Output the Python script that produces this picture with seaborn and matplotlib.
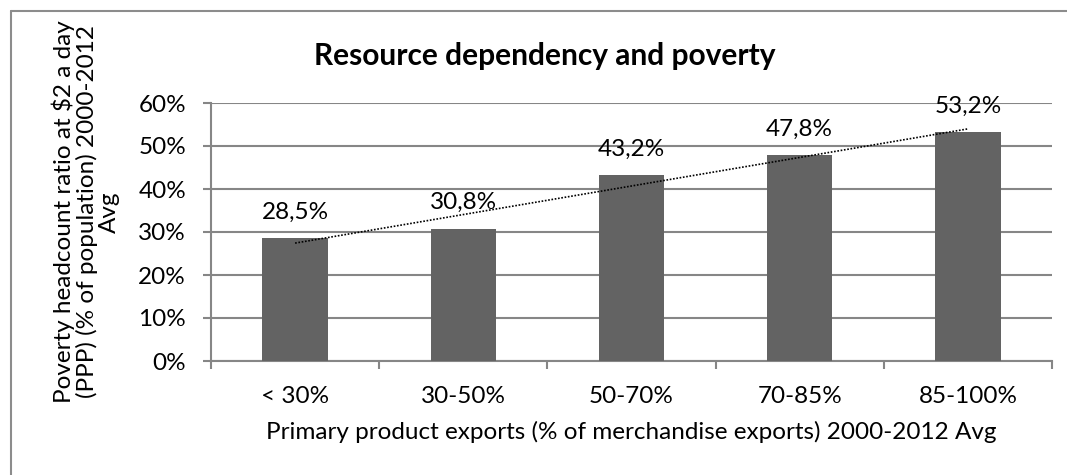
import numpy as np
import pandas as pd
import matplotlib
matplotlib.use("Agg")
import matplotlib.pyplot as plt
import seaborn as sns
from matplotlib.ticker import PercentFormatter, FixedLocator

categories = ["< 30%", "30-50%", "50-70%", "70-85%", "85-100%"]
values = [28.5, 30.8, 43.2, 47.8, 53.2]
yticks = [0, 10, 20, 30, 40, 50, 60]

title = "Resource dependency and poverty"
xlabel = "Primary product exports (% of merchandise exports) 2000-2012 Avg"
ylabel = "Poverty headcount ratio at $2 a day\n(PPP) (% of population) 2000-2012\nAvg"

sns.set_theme(style="white")
plt.rcParams['font.family'] = ['Lato', 'DejaVu Sans']

FS = 17.5

df = pd.DataFrame({"cat": categories, "val": values})

fig = plt.figure(figsize=(10.67, 4.75), dpi=100)
ax = fig.add_axes([211/1067, 1 - 361/475, (1052-211)/1067, (361-103)/475])

bar_color = "#636363"
grid_color = "#868686"

sns.barplot(data=df, x="cat", y="val", color=bar_color, width=0.39,
            saturation=1, ax=ax, zorder=3)
for p in ax.patches:
    p.set_edgecolor("none")

ax.set_ylim(0, 60)
ax.set_xlim(-0.5, len(categories) - 0.5)
ax.yaxis.set_major_locator(FixedLocator(yticks))
ax.yaxis.set_major_formatter(PercentFormatter(decimals=0))
ax.grid(axis="y", color=grid_color, linewidth=1.5, zorder=0)
ax.set_axisbelow(True)

for s in ["top", "right"]:
    ax.spines[s].set_visible(False)
for s in ["left", "bottom"]:
    ax.spines[s].set_color(grid_color)
    ax.spines[s].set_linewidth(1.5)

ax.tick_params(axis="y", which="major", direction="out", length=6, width=1.5,
               color=grid_color, left=True, labelsize=FS, pad=12, labelcolor="#000000")
ax.set_xticks(np.arange(len(categories)))
ax.set_xticklabels(categories)
ax.tick_params(axis="x", which="major", length=0, labelsize=FS, pad=18, labelcolor="#000000")
ax.set_xticks(np.arange(len(categories) + 1) - 0.5, minor=True)
ax.tick_params(axis="x", which="minor", direction="out", length=6, width=1.5,
               color=grid_color, bottom=True)

# data labels
for i, v in enumerate(values):
    ax.annotate(f"{v:.1f}%".replace(".", ","), (i, v), xytext=(0, 19),
                textcoords="offset points", ha="center", va="center",
                fontsize=FS, color="#000000")

# linear trendline
xs = np.arange(len(values))
coef = np.polyfit(xs, values, 1)
ax.plot(xs, np.polyval(coef, xs), linestyle=(0, (1, 1)), color="#000000",
        linewidth=1.2, zorder=4)

ax.set_xlabel(xlabel, fontsize=FS, labelpad=10, color="#000000")
ax.set_ylabel("")
fig.text(86/1067, 1 - 212/475, ylabel, rotation=90, ha="center", va="center",
         multialignment="center", fontsize=FS, color="#000000", linespacing=1.06)

fig.text(545/1067, 1 - 56/475, title, ha="center", va="center",
         fontsize=21.5, fontweight="bold", color="#000000")

# outer chart border
fig.add_artist(plt.Line2D([11/1067, 11/1067], [0, 1 - 11/475], transform=fig.transFigure,
                          color="#8c8c8c", linewidth=1.5))
fig.add_artist(plt.Line2D([11/1067, 1], [1 - 11/475, 1 - 11/475], transform=fig.transFigure,
                          color="#8c8c8c", linewidth=1.5))

fig.savefig("out.png", dpi=100, facecolor="white")
